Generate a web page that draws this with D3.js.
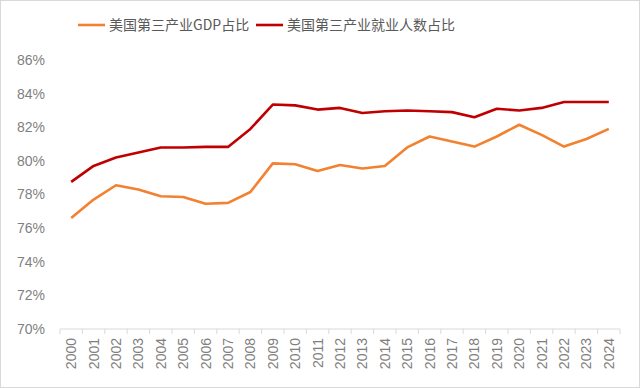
<!DOCTYPE html>
<html>
<head>
<meta charset="utf-8">
<script src="https://cdn.jsdelivr.net/npm/d3@7"></script>
<style>
  body { margin: 0; background: #fff; }
  svg text { font-family: "Liberation Sans", Arial, sans-serif; }
</style>
</head>
<body>
<div id="chart"></div>
<script>
var years = ["2000","2001","2002","2003","2004","2005","2006","2007","2008","2009","2010","2011","2012",
             "2013","2014","2015","2016","2017","2018","2019","2020","2021","2022","2023","2024"];
var gdpShare = [76.6, 77.7, 78.55, 78.3, 77.9, 77.85, 77.45, 77.5, 78.15, 79.85, 79.8, 79.4, 79.75,
                79.55, 79.7, 80.8, 81.45, 81.15, 80.85, 81.45, 82.15, 81.55, 80.85, 81.3, 81.9];
var jobShare = [78.75, 79.7, 80.2, 80.5, 80.8, 80.8, 80.83, 80.83, 81.9, 83.35, 83.3, 83.05, 83.15,
                82.85, 82.95, 83.0, 82.95, 82.9, 82.6, 83.1, 83.0, 83.15, 83.5, 83.5, 83.5];
var yTicks = [70, 72, 74, 76, 78, 80, 82, 84, 86];
var seriesNames = ["美国第三产业GDP占比", "美国第三产业就业人数占比"];
var seriesColors = ["#F28130", "#C00000"];

var width = 640, height = 388;
var margin = {top: 60, right: 20, bottom: 59, left: 60};

var svg = d3.select("#chart").append("svg")
  .attr("width", width)
  .attr("height", height);

svg.append("rect")
  .attr("x", 0.5).attr("y", 0.5)
  .attr("width", width - 1).attr("height", height - 1)
  .attr("fill", "#fff")
  .attr("stroke", "#d9d9d9");

var x = d3.scaleBand().domain(years).range([margin.left, width - margin.right]);
var y = d3.scaleLinear().domain([70, 86]).range([height - margin.bottom, margin.top]);

// y axis labels only, no line
var yAxis = svg.append("g")
  .attr("transform", "translate(" + margin.left + ",0)")
  .call(d3.axisLeft(y).tickValues(yTicks).tickSize(0).tickPadding(15)
    .tickFormat(function(d) { return d + "%"; }));
yAxis.select(".domain").remove();
yAxis.selectAll("text").attr("fill", "#7f7f7f").style("font-size", "14px");

// x axis with ticks at category boundaries
var xg = svg.append("g")
  .attr("transform", "translate(0," + (height - margin.bottom) + ")");
xg.append("line")
  .attr("x1", margin.left).attr("x2", width - margin.right)
  .attr("stroke", "#d9d9d9");
xg.selectAll(".tk")
  .data(years.concat(["end"]))
  .enter().append("line")
  .attr("x1", function(d, i) { return margin.left + i * x.step(); })
  .attr("x2", function(d, i) { return margin.left + i * x.step(); })
  .attr("y1", 0).attr("y2", 5)
  .attr("stroke", "#d9d9d9");
xg.selectAll(".lbl")
  .data(years)
  .enter().append("text")
  .attr("transform", function(d) {
    return "translate(" + (x(d) + x.bandwidth() / 2 + 5) + ",9) rotate(-90)";
  })
  .attr("text-anchor", "end")
  .attr("fill", "#7f7f7f")
  .style("font-size", "14px")
  .text(function(d) { return d; });

var line = d3.line()
  .x(function(d, i) { return x(years[i]) + x.bandwidth() / 2; })
  .y(function(d) { return y(d); });

[gdpShare, jobShare].forEach(function(s, k) {
  svg.append("path")
    .datum(s)
    .attr("fill", "none")
    .attr("stroke", seriesColors[k])
    .attr("stroke-width", 2.6)
    .attr("stroke-linejoin", "round")
    .attr("d", line);
});

// legend
var legendX = [78, 256];
seriesNames.forEach(function(name, k) {
  var g = svg.append("g").attr("transform", "translate(" + legendX[k] + ",25)");
  g.append("line").attr("x1", 0).attr("x2", 27)
    .attr("stroke", seriesColors[k]).attr("stroke-width", 2.6);
  g.append("text").attr("x", 31).attr("y", 5)
    .attr("fill", "#595959")
    .style("font-size", "14px")
    .style("font-family", "'Noto Sans CJK SC', 'Liberation Sans', sans-serif")
    .text(name);
});
</script>
</body>
</html>
